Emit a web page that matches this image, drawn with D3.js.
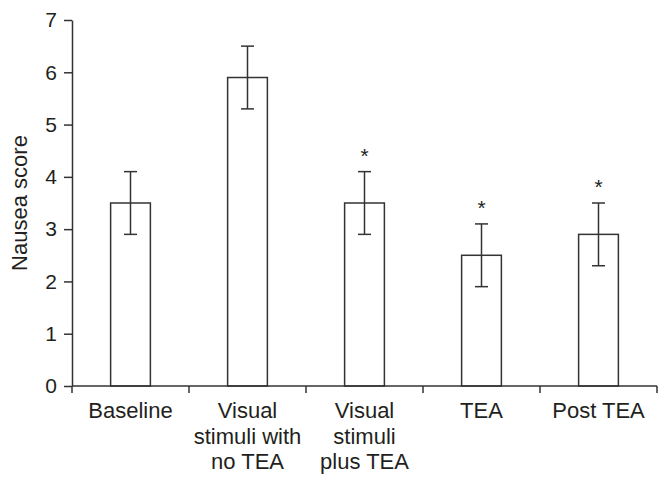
<!DOCTYPE html>
<html>
<head>
<meta charset="utf-8">
<script src="https://cdn.jsdelivr.net/npm/d3@7"></script>
<style>
  body { margin: 0; background: #fff; }
  svg text { font-family: "Liberation Sans", Arial, Helvetica, sans-serif; fill: #231f20; }
</style>
</head>
<body>
<script>
// Chart values
var categories = ["Baseline", "Visual stimuli with no TEA", "Visual stimuli plus TEA", "TEA", "Post TEA"];
var labelLines = [["Baseline"], ["Visual", "stimuli with", "no TEA"], ["Visual", "stimuli", "plus TEA"], ["TEA"], ["Post TEA"]];
var means = [3.5, 5.9, 3.5, 2.5, 2.9];
var errors = [0.6, 0.6, 0.6, 0.6, 0.6];
var significant = [false, false, true, true, true];
var yTicks = [0, 1, 2, 3, 4, 5, 6, 7];

var width = 670, height = 487;
var margin = { top: 20, right: 13, bottom: 101, left: 72 };
var ink = "#333";

var svg = d3.select("body").append("svg")
    .attr("width", width)
    .attr("height", height);

var x = d3.scaleBand()
    .domain(categories)
    .range([margin.left, width - margin.right]);

var y = d3.scaleLinear()
    .domain([0, 7])
    .range([height - margin.bottom, margin.top]);

var barW = x.bandwidth() * 0.34,
    capW = 13;

// bars
svg.selectAll(".bar")
    .data(categories)
    .enter().append("rect")
    .attr("class", "bar")
    .attr("x", function(d) { return x(d) + (x.bandwidth() - barW) / 2; })
    .attr("y", function(d, i) { return y(means[i]); })
    .attr("width", barW)
    .attr("height", function(d, i) { return y(0) - y(means[i]); })
    .attr("fill", "#fff")
    .attr("stroke", ink)
    .attr("stroke-width", 1.5);

// error bars
var err = svg.selectAll(".err")
    .data(categories)
    .enter().append("g")
    .attr("class", "err")
    .attr("stroke", ink)
    .attr("stroke-width", 1.5);

err.append("line")
    .attr("x1", function(d) { return x(d) + x.bandwidth() / 2; })
    .attr("x2", function(d) { return x(d) + x.bandwidth() / 2; })
    .attr("y1", function(d, i) { return y(means[i] + errors[i]); })
    .attr("y2", function(d, i) { return y(means[i] - errors[i]); });

[1, -1].forEach(function(sign) {
    err.append("line")
        .attr("x1", function(d) { return x(d) + x.bandwidth() / 2 - capW / 2; })
        .attr("x2", function(d) { return x(d) + x.bandwidth() / 2 + capW / 2; })
        .attr("y1", function(d, i) { return y(means[i] + sign * errors[i]); })
        .attr("y2", function(d, i) { return y(means[i] + sign * errors[i]); });
});

// asterisks
svg.selectAll(".star")
    .data(categories.filter(function(d, i) { return significant[i]; }))
    .enter().append("text")
    .attr("class", "star")
    .attr("x", function(d) { return x(d) + x.bandwidth() / 2; })
    .attr("y", function(d) { var i = categories.indexOf(d); return y(means[i] + errors[i]) - 9; })
    .attr("text-anchor", "middle")
    .style("font-size", "21px")
    .text("*");

// y axis
var yAxis = svg.append("g")
    .attr("transform", "translate(" + margin.left + ",0)")
    .call(d3.axisLeft(y).tickValues(yTicks).tickFormat(d3.format("d"))
        .tickSize(8).tickPadding(7).tickSizeOuter(0));
yAxis.selectAll("text").style("font-size", "21px");

// x axis, ticks at band edges
var xAxis = svg.append("g")
    .attr("transform", "translate(0," + y(0) + ")");
xAxis.append("line")
    .attr("x1", margin.left).attr("x2", width - margin.right)
    .attr("stroke", ink).attr("stroke-width", 1.5);
xAxis.selectAll(".edge")
    .data(categories.concat([null]))
    .enter().append("line")
    .attr("class", "edge")
    .attr("x1", function(d) { return d === null ? x.range()[1] : x(d); })
    .attr("x2", function(d) { return d === null ? x.range()[1] : x(d); })
    .attr("y1", 0).attr("y2", 7)
    .attr("stroke", ink).attr("stroke-width", 1.5);

var labels = xAxis.selectAll(".cat")
    .data(categories)
    .enter().append("text")
    .attr("class", "cat")
    .attr("text-anchor", "middle")
    .style("font-size", "22px")
    .attr("transform", function(d) { return "translate(" + (x(d) + x.bandwidth() / 2) + ",32)"; });

labels.selectAll("tspan")
    .data(function(d, i) { return labelLines[i]; })
    .enter().append("tspan")
    .attr("x", 0)
    .attr("y", function(d, j) { return j * 25.7; })
    .text(function(d) { return d; });

yAxis.selectAll("line, path").attr("stroke", ink).attr("stroke-width", 1.5);
yAxis.selectAll("text").attr("fill", "#231f20");

// y axis title
svg.append("text")
    .attr("transform", "translate(27," + y(3.5) + ") rotate(-90)")
    .attr("text-anchor", "middle")
    .style("font-size", "22px")
    .text("Nausea score");
</script>
</body>
</html>
